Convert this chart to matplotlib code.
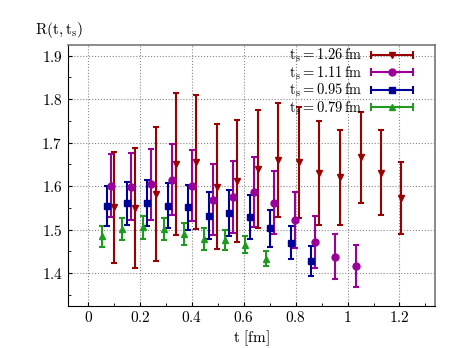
import numpy as np
import matplotlib
matplotlib.use('Agg')
import matplotlib.pyplot as plt
from matplotlib.ticker import MultipleLocator, FuncFormatter
from matplotlib.container import ErrorbarContainer
from matplotlib.legend_handler import HandlerErrorbar

plt.rcParams['mathtext.fontset'] = 'cm'

# t_s = 1.26 fm
t_126 = [0.099, 0.180, 0.260, 0.338, 0.417, 0.495, 0.575, 0.655, 0.733, 0.812, 0.889, 0.971, 1.050, 1.127, 1.206]
r_126 = [1.551, 1.549, 1.582, 1.651, 1.655, 1.599, 1.611, 1.639, 1.660, 1.655, 1.630, 1.620, 1.666, 1.631, 1.573]
e_126 = [0.128, 0.138, 0.155, 0.163, 0.154, 0.144, 0.140, 0.135, 0.132, 0.128, 0.119, 0.109, 0.105, 0.098, 0.083]

# t_s = 1.11 fm
t_111 = [0.086, 0.164, 0.242, 0.322, 0.401, 0.480, 0.559, 0.638, 0.718, 0.796, 0.875, 0.952, 1.033]
r_111 = [1.601, 1.599, 1.604, 1.615, 1.601, 1.569, 1.575, 1.586, 1.562, 1.522, 1.471, 1.437, 1.416]
e_111 = [0.073, 0.077, 0.081, 0.082, 0.081, 0.081, 0.082, 0.080, 0.072, 0.064, 0.060, 0.052, 0.048]

# t_s = 0.95 fm
t_095 = [0.071, 0.148, 0.228, 0.306, 0.386, 0.466, 0.544, 0.623, 0.701, 0.781, 0.859]
r_095 = [1.555, 1.560, 1.562, 1.555, 1.551, 1.532, 1.538, 1.529, 1.503, 1.470, 1.427]
e_095 = [0.046, 0.050, 0.053, 0.051, 0.052, 0.054, 0.053, 0.050, 0.043, 0.038, 0.034]

# t_s = 0.79 fm
t_079 = [0.052, 0.130, 0.210, 0.291, 0.370, 0.446, 0.527, 0.606, 0.686]
r_079 = [1.484, 1.501, 1.505, 1.501, 1.490, 1.478, 1.475, 1.465, 1.433]
e_079 = [0.025, 0.026, 0.027, 0.026, 0.026, 0.025, 0.023, 0.020, 0.018]

series = [
    (t_079, r_079, e_079, '^', '#1f9a1f', r'$\mathrm{t_s = 0.79\,fm}$'),
    (t_095, r_095, e_095, 's', '#000099', r'$\mathrm{t_s = 0.95\,fm}$'),
    (t_111, r_111, e_111, 'o', '#990099', r'$\mathrm{t_s = 1.11\,fm}$'),
    (t_126, r_126, e_126, 'v', '#990000', r'$\mathrm{t_s = 1.26\,fm}$'),
]

fig = plt.figure(figsize=(4.63, 3.48), dpi=100)
ax = fig.add_axes([0.146, 0.122, 0.794, 0.749])

handles = []
for t, r, e, m, c, lab in series:
    ax.errorbar(t, r, yerr=e, fmt=m, color=c, ms=5, elinewidth=1.5,
                capsize=2.5, capthick=1.5, zorder=3)
    # proxy with horizontal bar for the legend
    h = ax.errorbar([np.nan], [np.nan], xerr=[0.1], fmt=m, color=c, ms=5,
                    elinewidth=1.5, capsize=3, capthick=1.5, label=lab)
    handles.append(h)

ax.set_xlim(-0.08, 1.338)
ax.set_ylim(1.325, 1.925)
ax.xaxis.set_major_locator(MultipleLocator(0.2))
ax.xaxis.set_minor_locator(MultipleLocator(0.1))
ax.yaxis.set_major_locator(MultipleLocator(0.1))
ax.yaxis.set_minor_locator(MultipleLocator(0.05))

def fmt(v, pos):
    s = ('%.1f' % v)
    if s.endswith('.0'):
        s = s[:-2]
    if s == '-0':
        s = '0'
    return '$' + s + '$'

ax.xaxis.set_major_formatter(FuncFormatter(fmt))
ax.yaxis.set_major_formatter(FuncFormatter(fmt))
ax.tick_params(which='both', direction='in', labelsize=11, top=False, right=False)
ax.tick_params(which='major', length=3)
ax.tick_params(which='minor', length=2)
ax.grid(True, which='major', linestyle=':', color='#888888', linewidth=0.8)
ax.set_axisbelow(True)
for s in ['top', 'right']:
    ax.spines[s].set_color('#777777')
    ax.spines[s].set_linewidth(1.2)

ax.set_xlabel(r'$\mathrm{t\ [fm]}$', fontsize=11, labelpad=2)
fig.text(0.075, 0.915, r'$\mathrm{R(t, t_s)}$', fontsize=11, ha='left', va='center')

hl = 2.9
ax.legend(handles=handles[::-1], loc='upper right', bbox_to_anchor=(0.955, 1.015),
          frameon=False, markerfirst=False,
          fontsize=10.4, handlelength=hl, labelspacing=0.0, borderaxespad=0.0,
          handletextpad=0.6,
          handler_map={ErrorbarContainer: HandlerErrorbar(xerr_size=hl / 2, numpoints=1)})

fig.savefig('out.png', dpi=100)
